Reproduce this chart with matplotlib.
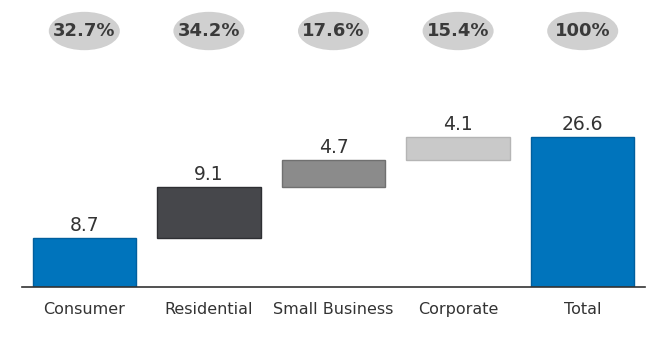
import matplotlib
matplotlib.use("Agg")
import matplotlib.pyplot as plt
from matplotlib.patches import Ellipse
import numpy as np

# data
categories = ["Consumer", "Residential", "Small Business", "Corporate", "Total"]
values = [8.7, 9.1, 4.7, 4.1, 26.6]
shares = ["32.7%", "34.2%", "17.6%", "15.4%", "100%"]
colors = ["#0074BC", "#46474B", "#8B8B8B", "#C9C9C9", "#0074BC"]
edges = ["#005F9E", "#2E2F33", "#707070", "#B5B5B5", "#005F9E"]

# waterfall bottoms: steps stack, total sits on the baseline
bottoms = list(np.concatenate([[0], np.cumsum(values[:-2])])) + [0]

fig = plt.figure(figsize=(6.5, 3.52), dpi=100)
ax = fig.add_axes([22/650, 65/352, 623/650, 287/352])

x = np.arange(len(categories))
ax.bar(x, values, bottom=bottoms, width=0.83, color=colors,
       edgecolor=edges, linewidth=1, zorder=2)

for xi, v, b in zip(x, values, bottoms):
    ax.annotate("%.1f" % v, (xi, b + v), xytext=(0, 2), textcoords="offset points",
                ha="center", va="bottom", fontsize=13.5, color="#333333")

# share bubbles along the top
for xi, s in zip(x, shares):
    ax.add_patch(Ellipse((xi, 45.4), 0.57, 6.8, facecolor="#D0D0D0",
                         edgecolor="none", clip_on=False))
    ax.text(xi, 45.4, s, ha="center", va="center", fontsize=13,
            fontweight="bold", color="#3A3A3A")

ax.set_xlim(-0.5, 4.5)
ax.set_ylim(0, 50.9)
ax.set_xticks(x)
ax.set_xticklabels(categories, fontsize=11.5, color="#333333")
ax.tick_params(axis="x", length=0, pad=11)
ax.set_yticks([])
for sp in ["top", "right", "left"]:
    ax.spines[sp].set_visible(False)
ax.spines["bottom"].set_color("#333333")
ax.spines["bottom"].set_linewidth(1.2)

fig.savefig("out.png", dpi=100)
